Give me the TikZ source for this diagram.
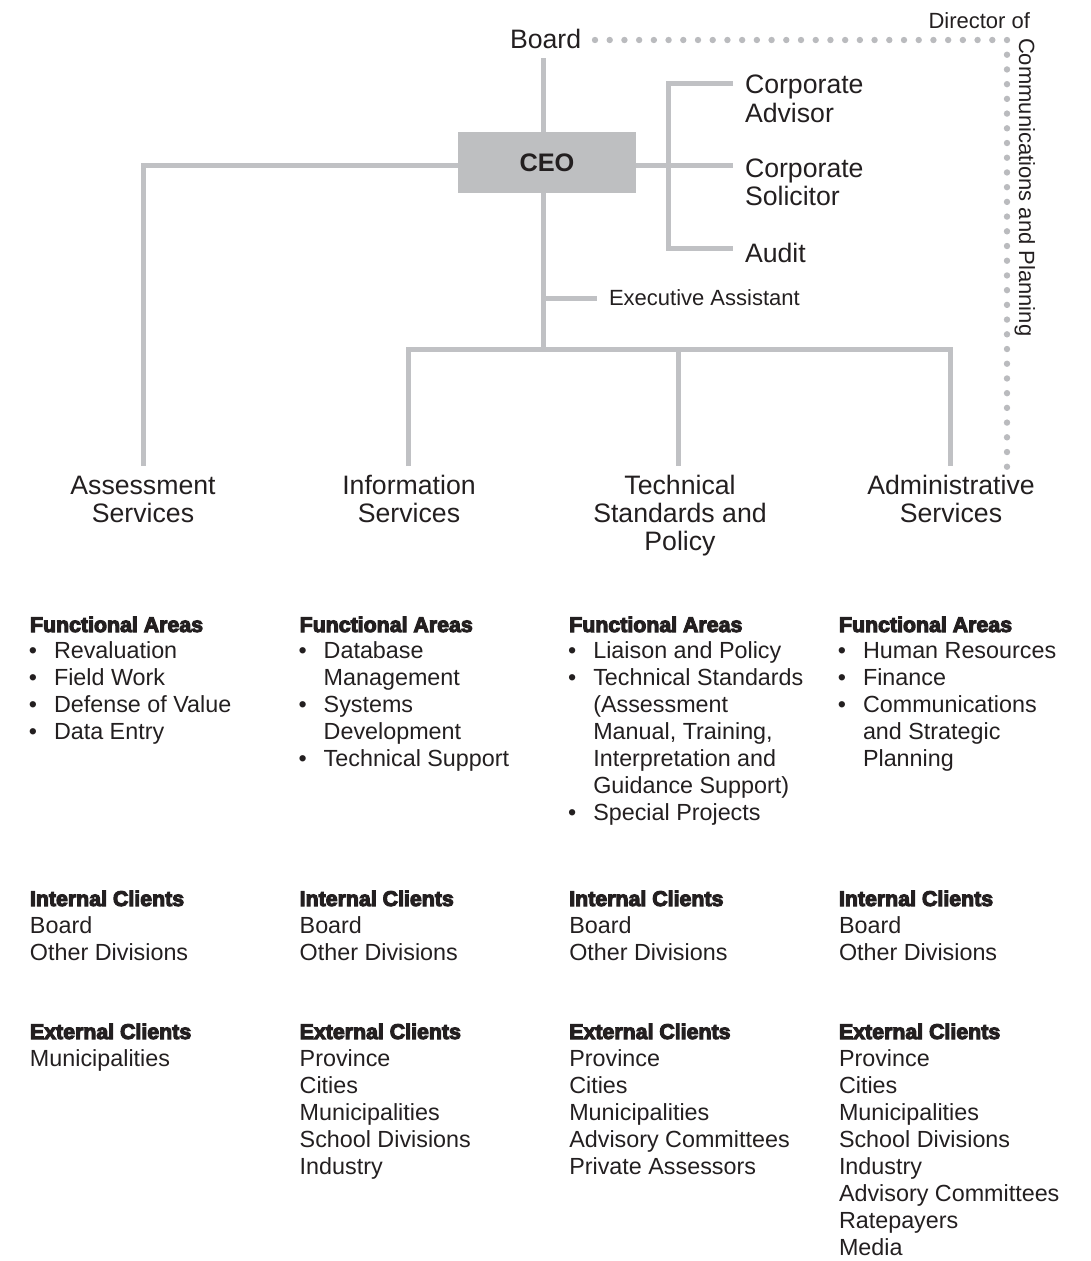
\documentclass[tikz,border=0pt]{standalone}
\usepackage{fontspec}
\setmainfont{Liberation Sans}
\newfontfamily\blackfont{Liberation Sans}[BoldFeatures={FakeBold=5}]
\definecolor{ink}{RGB}{35,31,32}
\definecolor{linegray}{RGB}{192,193,196}
\definecolor{dotgray}{RGB}{186,187,190}
\definecolor{boxgray}{RGB}{190,191,193}
\newcommand\lineset[6]{\foreach \itm [count=\i from 0] in {#6} {\node[#1] (#5\i) at ({#2},{#3+#4*\i}) {\itm};}}
\newcommand\bulletset[4]{\foreach \k in {#4} {\node[bul] (#3\k) at ({#1},{#2+27*\k}) {\textbullet};}}
\begin{document}
\begin{tikzpicture}[x=0.75pt,y=-0.75pt,
  conn/.style={draw=linegray, line width=3.75pt},
  dots/.style={draw=dotgray, line width=4.8pt, line cap=round, dash pattern=on 0pt off 11.036pt},
  txt/.style={inner sep=0pt, outer sep=0pt, text=ink},
  big/.style={txt, font=\fontsize{20}{24}\selectfont, anchor=base},
  bigl/.style={big, anchor=base west},
  body/.style={txt, font=\fontsize{17.5}{21}\selectfont, anchor=base west},
  bul/.style={txt, font=\fontsize{17.5}{21}\selectfont, anchor=base},
  small/.style={txt, font=\fontsize{16.5}{20}\selectfont},
  head/.style={txt, font=\blackfont\bfseries\fontsize{16}{19}\selectfont, anchor=base west},
  ceobox/.style={fill=boxgray, minimum width=133.5pt, minimum height=45.75pt, inner sep=0pt, text=ink, font=\bfseries\fontsize{19}{21}\selectfont}
]
\useasboundingbox (0,0) rectangle (1091,1261);

% ---- top part ----
\node[bigl] (board) at (510,48) {Board};
\node[ceobox] (ceo) at (547,162.5) {CEO};

\coordinate (bl) at (543,58);
\draw[conn] (bl) -- (ceo.north -| bl);

% right branch
\coordinate (rj) at (668,165);
\coordinate (rt) at (668,83);
\coordinate (rb) at (668,248);
\coordinate (caE) at (733,83);
\coordinate (csE) at (733,165);
\coordinate (auE) at (733,248);
\draw[conn] (ceo.east |- rj) -- (csE);
\draw[conn] (caE) -- (rt) -- (rb) -- (auE);
\node[bigl] (ca1) at (745,93) {Corporate};
\node[bigl] (ca2) at (745,122) {Advisor};
\node[bigl] (cs1) at (745,177) {Corporate};
\node[bigl] (cs2) at (745,205) {Solicitor};
\node[bigl] (au) at (745,262) {Audit};

% executive assistant
\coordinate (exJ) at (543,298);
\coordinate (exE) at (597,298);
\draw[conn] (exJ) -- (exE);
\node[small, anchor=base west] (exa) at (609,305) {Executive Assistant};

% main trunk
\coordinate (hub) at (543,349);
\draw[conn] (ceo.south -| hub) -- (hub);
\coordinate (isC) at (408,349);
\coordinate (adC) at (950,349);
\coordinate (tsC) at (678,349);
\coordinate (isT) at (408,466);
\coordinate (tsT) at (678,466);
\coordinate (adT) at (950,466);
\draw[conn] (isT) -- (isC) -- (adC) -- (adT);
\draw[conn] (tsC) -- (tsT);

% assessment branch
\coordinate (asC) at (143,165);
\coordinate (asT) at (143,466);
\draw[conn] (ceo.west |- asC) -- (asC) -- (asT);

% dotted line to Director of Communications and Planning
\coordinate (d0) at (595,40);
\coordinate (dc) at (1007,40);
\coordinate (dend) at (1007,467);
\draw[dots] (d0) -- (dc) -- (dend);
\node[small, anchor=base east] (dir1) at (1030,28) {Director of};
\node[small, rotate=-90, anchor=base west] (dir2) at (1019,38) {Communications and Planning};

% ---- division labels ----
\node[big] (as1) at (143,494) {Assessment};
\node[big] (as2) at (143,522) {Services};
\node[big] (is1) at (409,494) {Information};
\node[big] (is2) at (409,522) {Services};
\node[big] (ts1) at (680,494) {Technical};
\node[big] (ts2) at (680,522) {Standards and};
\node[big] (ts3) at (680,550) {Policy};
\node[big] (ad1) at (951,494) {Administrative};
\node[big] (ad2) at (951,522) {Services};

% ---- functional areas ----
\node[head] (fa1) at (30,632) {Functional Areas};
\node[head] (fa2) at (299.7,632) {Functional Areas};
\node[head] (fa3) at (569.3,632) {Functional Areas};
\node[head] (fa4) at (839,632) {Functional Areas};

\lineset{body}{54}{658}{27}{fla}{Revaluation, Field Work, Defense of Value, Data Entry}
\bulletset{33}{658}{fba}{0,1,2,3}
\lineset{body}{323.7}{658}{27}{flb}{Database, Management, Systems, Development, Technical Support}
\bulletset{302.7}{658}{fbb}{0,2,4}
\lineset{body}{593.3}{658}{27}{flc}{Liaison and Policy, Technical Standards, {(Assessment}, {Manual, Training,}, Interpretation and, {Guidance Support)}, Special Projects}
\bulletset{572.3}{658}{fbc}{0,1,6}
\lineset{body}{863}{658}{27}{fld}{Human Resources, Finance, Communications, and Strategic, Planning}
\bulletset{842}{658}{fbd}{0,1,2}

% ---- internal clients ----
\node[head] (ic1) at (30,906) {Internal Clients};
\node[head] (ic2) at (299.7,906) {Internal Clients};
\node[head] (ic3) at (569.3,906) {Internal Clients};
\node[head] (ic4) at (839,906) {Internal Clients};
\lineset{body}{30}{933}{27}{ila}{Board, Other Divisions}
\lineset{body}{299.7}{933}{27}{ilb}{Board, Other Divisions}
\lineset{body}{569.3}{933}{27}{ilc}{Board, Other Divisions}
\lineset{body}{839}{933}{27}{ild}{Board, Other Divisions}

% ---- external clients ----
\node[head] (ec1) at (30,1039) {External Clients};
\node[head] (ec2) at (299.7,1039) {External Clients};
\node[head] (ec3) at (569.3,1039) {External Clients};
\node[head] (ec4) at (839,1039) {External Clients};
\lineset{body}{30}{1066}{27.1}{ela}{Municipalities}
\lineset{body}{299.7}{1066}{27.1}{elb}{Province, Cities, Municipalities, School Divisions, Industry}
\lineset{body}{569.3}{1066}{27.1}{elc}{Province, Cities, Municipalities, Advisory Committees, Private Assessors}
\lineset{body}{839}{1066}{27.1}{eld}{Province, Cities, Municipalities, School Divisions, Industry, Advisory Committees, Ratepayers, Media}
\end{tikzpicture}
\end{document}
